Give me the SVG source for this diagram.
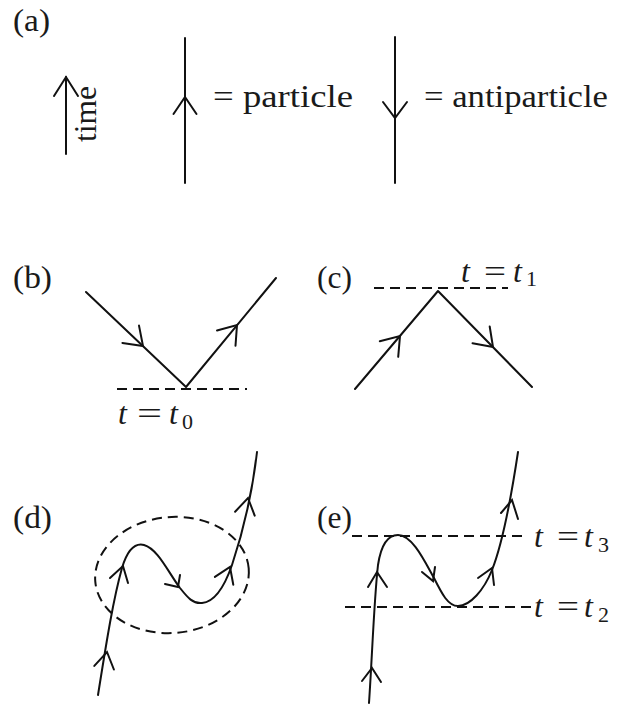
<svg xmlns="http://www.w3.org/2000/svg" width="619" height="705" viewBox="0 0 619 705">
  <style>
    .ln { fill: none; stroke: #111; stroke-width: 2; stroke-linecap: round; stroke-linejoin: round; }
    .ah { fill: none; stroke: #111; stroke-width: 2; stroke-linecap: round; stroke-linejoin: miter; }
    .dash { fill: none; stroke: #111; stroke-width: 2; stroke-dasharray: 10 6; }
    text { font-family: 'Liberation Serif', serif; fill: #1a1a1a; }
    .lab { font-size: 32px; }
    .it { font-style: italic; font-size: 32px; }
    .sub { font-size: 22px; }
  </style>
  <rect width="619" height="705" fill="#ffffff"/>

  <g id="panel-a">
    <text class="lab" x="13" y="31" textLength="37" lengthAdjust="spacingAndGlyphs">(a)</text>
    <g id="time-arrow">
      <path class="ln" d="M66,154 L66,77"/>
      <path class="ah" d="M54,96 L66,77 L78,96"/>
      <text class="lab" x="96" y="142" style="font-size:31px" textLength="56" lengthAdjust="spacingAndGlyphs" transform="rotate(-90 96 142)">time</text>
    </g>
    <g id="particle">
      <path class="ln" d="M185,183 L185,38"/>
      <path class="ah" d="M173.5,114 L185,97 L196.5,114"/>
      <text class="lab" x="213" y="107" textLength="140" lengthAdjust="spacingAndGlyphs">= particle</text>
    </g>
    <g id="antiparticle">
      <path class="ln" d="M395,183 L395,37"/>
      <path class="ah" d="M383,102 L395,118 L407,102"/>
      <text class="lab" x="424" y="107" textLength="184" lengthAdjust="spacingAndGlyphs">= antiparticle</text>
    </g>
  </g>

  <g id="panel-b">
    <text class="lab" x="13" y="288" textLength="39" lengthAdjust="spacingAndGlyphs">(b)</text>
    <path class="dash" d="M117,389 L247,389"/>
    <g id="b-lines">
      <path class="ln" d="M86,292 L186,387 L276,278"/>
      <path class="ah" d="M122.4,343 L143,346 L139,325.6"/>
      <path class="ah" d="M217,330.5 L237,325 L235.5,345.7"/>
    </g>
    <g id="b-label">
      <text class="it" x="118" y="424">t</text>
      <text class="lab" x="137" y="424" textLength="25" lengthAdjust="spacingAndGlyphs">=</text>
      <text class="it" x="169" y="424">t</text>
      <text class="sub" x="182" y="429">0</text>
    </g>
  </g>

  <g id="panel-c">
    <text class="lab" x="317" y="288" textLength="35" lengthAdjust="spacingAndGlyphs">(c)</text>
    <path class="dash" d="M374,288 L508,288"/>
    <g id="c-lines">
      <path class="ln" d="M355,389 L438,291 L532,387"/>
      <path class="ah" d="M379.8,341.3 L400,336 L398.2,356.8"/>
      <path class="ah" d="M472.5,343.3 L493,347 L489.7,326.5"/>
    </g>
    <g id="c-label">
      <text class="it" x="461" y="282">t</text>
      <text class="lab" x="484" y="282" textLength="22" lengthAdjust="spacingAndGlyphs">=</text>
      <text class="it" x="513" y="282">t</text>
      <text class="sub" x="526" y="286">1</text>
    </g>
  </g>

  <g id="panel-d">
    <text class="lab" x="13" y="528" textLength="39" lengthAdjust="spacingAndGlyphs">(d)</text>
    <ellipse class="dash" cx="172" cy="575" rx="77" ry="58" transform="rotate(-5 172 575)"/>
    <g id="d-worldline">
      <path class="ln" d="M98,695 C106,645 113,600 122,568 C128,548 136,543 144,545 C158,549 168,572 180,588 C188,598 193,604 202,603 C214,602 224,588 232,565 C242,535 252,495 257,452"/>
      <path class="ah" d="M94.3,665.9 L107,652 L113.9,669.5"/>
      <path class="ah" d="M110,578 L123,566 L128,583"/>
      <path class="ah" d="M165,584 L178,587 L180,575"/>
      <path class="ah" d="M214.9,576.9 L230,567 L233.3,584.7"/>
      <path class="ah" d="M235.1,511.7 L248,498 L254.7,515.6"/>
    </g>
  </g>

  <g id="panel-e">
    <text class="lab" x="317" y="528" textLength="35" lengthAdjust="spacingAndGlyphs">(e)</text>
    <path class="dash" d="M352,536 L527,536"/>
    <path class="dash" d="M345,607 L537,607"/>
    <g id="e-worldline">
      <path class="ln" d="M369,703 C372,660 374,600 378,565 C381,545 388,535 398,535 C412,535 424,560 434,578 C442,594 448,606 458,606 C470,606 484,590 492,570 C502,545 510,505 518,452"/>
      <path class="ah" d="M362,681 L372,668 L381,682"/>
      <path class="ah" d="M368,587 L377,572 L387,587"/>
      <path class="ah" d="M422,572 L433,581 L435,567"/>
      <path class="ah" d="M478,578 L492,568 L494,585"/>
      <path class="ah" d="M501,513 L512,500 L518,519"/>
    </g>
    <g id="e-label-t3">
      <text class="it" x="534" y="547">t</text>
      <text class="lab" x="557" y="547" textLength="22" lengthAdjust="spacingAndGlyphs">=</text>
      <text class="it" x="584" y="547">t</text>
      <text class="sub" x="598" y="552">3</text>
    </g>
    <g id="e-label-t2">
      <text class="it" x="534" y="617">t</text>
      <text class="lab" x="557" y="617" textLength="22" lengthAdjust="spacingAndGlyphs">=</text>
      <text class="it" x="584" y="617">t</text>
      <text class="sub" x="598" y="622">2</text>
    </g>
  </g>
</svg>
